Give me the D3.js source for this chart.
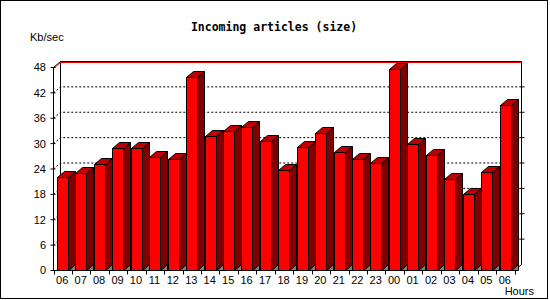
<!DOCTYPE html>
<html>
<head>
<meta charset="utf-8">
<script src="https://cdn.jsdelivr.net/npm/d3@7"></script>
<style>
  body { margin: 0; background: #fff; }
  text { font-family: "Liberation Sans", Arial, sans-serif; }
</style>
</head>
<body>
<div id="chart"></div>
<script>
// heures et valeurs (Kb/sec)
const hours = ["06","07","08","09","10","11","12","13","14","15","16","17","18","19","20","21","22","23","00","01","02","03","04","05","06"];
const values = [22.0, 23.0, 25.2, 29.0, 29.0, 26.9, 26.4, 45.7, 31.7, 33.0, 34.0, 30.7, 23.8, 29.1, 32.6, 28.0, 26.4, 25.4, 47.7, 29.8, 27.4, 21.7, 18.1, 23.3, 39.2];
const yTicks = [0, 6, 12, 18, 24, 30, 36, 42, 48];

const W = 550, H = 300;
const dx = 7, dy = 6; // profondeur 3D

const svg = d3.select("#chart").append("svg")
    .attr("width", W)
    .attr("height", H);

svg.append("rect")
    .attr("x", 0.5).attr("y", 0.5)
    .attr("width", 547).attr("height", 298)
    .attr("fill", "#fff").attr("stroke", "#000");

const x = d3.scaleBand()
    .domain(d3.range(hours.length))
    .range([53.5, 514.5])
    .padding(0);

const y = d3.scaleLinear()
    .domain([0, 48])
    .range([270.5, 67.5]);

const x0 = x.range()[0], x1 = x.range()[1];

// mur du fond
const back = svg.append("g");
back.append("line")
    .attr("x1", x0 + dx).attr("x2", x0 + dx)
    .attr("y1", y(48) - dy).attr("y2", y(0) - dy)
    .attr("stroke", "#000");
back.append("line")
    .attr("x1", x1 + dx).attr("x2", x1 + dx)
    .attr("y1", y(48) - dy).attr("y2", y(0) - dy)
    .attr("stroke", "#000");
back.append("line")
    .attr("x1", x1 + dx).attr("x2", x1)
    .attr("y1", y(0) - dy).attr("y2", y(0))
    .attr("stroke", "#000");

// lignes de grille pointillées
back.selectAll(".grid")
    .data(yTicks.filter(t => t > 0 && t < 48))
    .enter().append("path")
    .attr("class", "grid")
    .attr("d", t => `M${x0},${y(t)}L${x0 + dx},${y(t) - dy}L${x1 + dx},${y(t) - dy}`)
    .attr("fill", "none")
    .attr("stroke", "#000")
    .attr("stroke-dasharray", "2,2");

// bord supérieur (noir + rouge)
back.append("path")
    .attr("d", `M${x0},${y(48)}L${x0 + dx},${y(48) - dy}L${x1 + dx},${y(48) - dy}`)
    .attr("fill", "none").attr("stroke", "#000");
back.append("path")
    .attr("d", `M${x0},${y(48) + 1}L${x0 + dx},${y(48) - dy + 1}L${x1 + dx},${y(48) - dy + 1}`)
    .attr("fill", "none").attr("stroke", "#f00");

// petits traits à droite du mur
back.selectAll(".rtick")
    .data(yTicks.filter(t => t > 0 && t < 48))
    .enter().append("line")
    .attr("x1", x1 + dx).attr("x2", x1 + dx + 3)
    .attr("y1", t => y(t) - dy).attr("y2", t => y(t) - dy)
    .attr("stroke", "#000");

// barres 3D
const bw = x.bandwidth() * 0.6;
const off = x.bandwidth() * 0.19;
const bars = svg.append("g")
    .selectAll(".bar")
    .data(values)
    .enter().append("g")
    .attr("class", "bar");

bars.each(function(v, i) {
    const g = d3.select(this);
    const bx = Math.round(x(i) + off) + 0.5;
    const rx = bx + Math.round(bw);
    const top = Math.round(y(v)) + 0.5;
    const base = y(0);
    g.append("path")
        .attr("d", `M${rx},${base}L${rx + dx},${base - dy}L${rx + dx},${base}Z`)
        .attr("fill", "#808080").attr("stroke", "#000");
    g.append("path")
        .attr("d", `M${rx},${top}L${rx + dx},${top - dy}L${rx + dx},${base - dy}L${rx},${base}Z`)
        .attr("fill", "#800000").attr("stroke", "#000");
    g.append("path")
        .attr("d", `M${bx},${top}L${bx + dx},${top - dy}L${rx + dx},${top - dy}L${rx},${top}Z`)
        .attr("fill", "#c00000").attr("stroke", "#000");
    g.append("rect")
        .attr("x", bx).attr("y", top)
        .attr("width", rx - bx).attr("height", base - top)
        .attr("fill", "#ff0000").attr("stroke", "#000");
});

// axes avant
svg.append("line")
    .attr("x1", x0).attr("x2", x0)
    .attr("y1", y(48)).attr("y2", y(0))
    .attr("stroke", "#000");
svg.append("line")
    .attr("x1", x0).attr("x2", x1)
    .attr("y1", y(0)).attr("y2", y(0))
    .attr("stroke", "#000");

// graduations Y
svg.selectAll(".ytick")
    .data(yTicks)
    .enter().append("line")
    .attr("x1", x0 - 3).attr("x2", x0 + 2)
    .attr("y1", d => y(d)).attr("y2", d => y(d))
    .attr("stroke", "#000");
svg.selectAll(".ylabel")
    .data(yTicks)
    .enter().append("text")
    .attr("x", 46).attr("y", d => y(d))
    .attr("dy", "0.36em")
    .attr("text-anchor", "end")
    .attr("font-size", 11)
    .text(d => d);

// graduations X
svg.selectAll(".xtick")
    .data(d3.range(hours.length + 1))
    .enter().append("line")
    .attr("x1", i => Math.round(x0 + i * x.step()) + 0.5)
    .attr("x2", i => Math.round(x0 + i * x.step()) + 0.5)
    .attr("y1", y(0)).attr("y2", y(0) + 4)
    .attr("stroke", "#000");
svg.selectAll(".xlabel")
    .data(hours)
    .enter().append("text")
    .attr("x", (d, i) => x(i) + x.bandwidth() / 2 - 0.5)
    .attr("y", 284)
    .attr("text-anchor", "middle")
    .attr("font-size", 11)
    .text(d => d);

// titres
svg.append("text")
    .attr("x", 274).attr("y", 31)
    .attr("text-anchor", "middle")
    .attr("font-weight", "bold")
    .attr("font-size", 11.5)
    .style("font-family", "'DejaVu Sans Mono', monospace")
    .text("Incoming articles (size)");
svg.append("text")
    .attr("x", 30).attr("y", 41)
    .attr("font-size", 11)
    .text("Kb/sec");
svg.append("text")
    .attr("x", 534).attr("y", 295)
    .attr("text-anchor", "end")
    .attr("font-size", 11)
    .text("Hours");
</script>
</body>
</html>
